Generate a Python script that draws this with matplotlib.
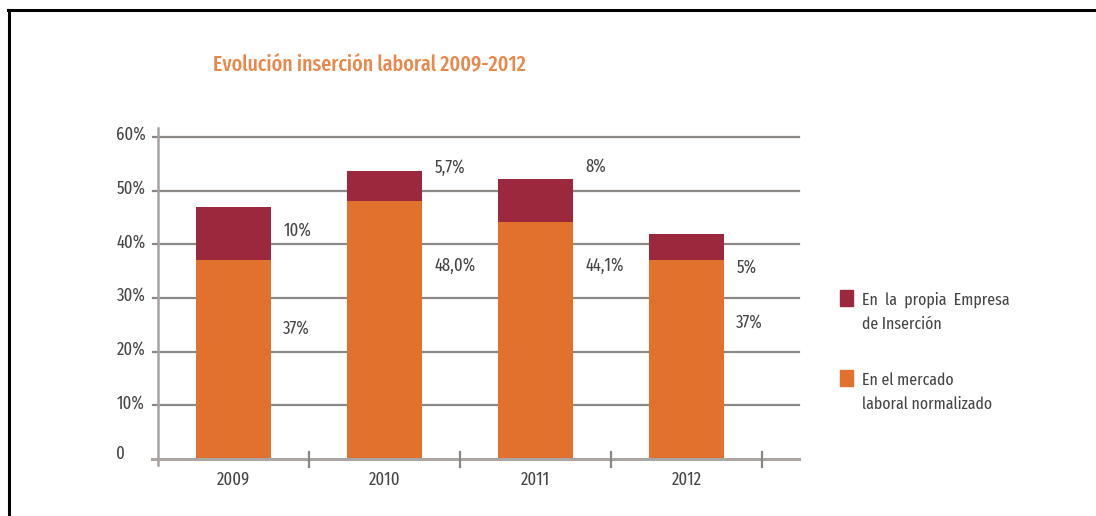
import matplotlib
matplotlib.use('Agg')
import matplotlib.pyplot as plt
from matplotlib.lines import Line2D
from matplotlib.patches import Rectangle

plt.rcParams['font.family'] = ['Fira Sans Extra Condensed', 'DejaVu Sans']

# Datos de inserción laboral (%)
anios = ['2009', '2010', '2011', '2012']
mercado = [37, 48.0, 44.1, 37]
empresa = [10, 5.7, 8, 5]
etiq_mercado = ['37%', '48,0%', '44,1%', '37%']
etiq_empresa = ['10%', '5,7%', '8%', '5%']
yticks = [0, 10, 20, 30, 40, 50, 60]
ytick_labels = ['0', '10%', '20%', '30%', '40%', '50%', '60%']

# posiciones verticales de las etiquetas de valor
y_etiq_mercado = [24.4, 36.0, 36.0, 25.5]
y_etiq_empresa = [42.6, 54.2, 54.6, 35.6]

naranja = '#E2712E'
granate = '#9C283D'
gris_texto = '#454545'
gris_linea = '#8c8886'

fig = plt.figure(figsize=(10.96, 5.16), dpi=100)
ax = fig.add_axes([158 / 1096, 1 - 459 / 516, 641 / 1096, 322 / 516])

x = range(len(anios))
ax.bar(x, mercado, width=0.5, color=naranja, zorder=3)
ax.bar(x, empresa, width=0.5, bottom=mercado, color=granate, zorder=3)

ax.set_xlim(-0.5, 3.745)
ax.set_ylim(0, 60)

# rejilla horizontal
for v in yticks[1:]:
    ax.plot([-0.535, 3.745], [v, v], color=gris_linea, lw=1.6, zorder=2, clip_on=False)
# eje x y eje y
ax.plot([-0.54, 3.745], [0, 0], color='#aaa6a4', lw=2.2, zorder=4, clip_on=False)
ax.plot([-0.5, -0.5], [-1.1, 61.7], color='#a8a4a2', lw=1.8, zorder=4, clip_on=False)
for t in [0.5, 1.5, 2.5, 3.5]:
    ax.plot([t, t], [-1.5, 1.3], color='#8a8684', lw=1.6, zorder=4, clip_on=False)

for s in ax.spines.values():
    s.set_visible(False)
ax.set_xticks([])
ax.set_yticks([])

# etiquetas del eje y, alineadas a la izquierda
for v, lab in zip(yticks, ytick_labels):
    dy = 0.9 if v == 0 else 0.4
    ax.text(-0.775, v + dy, lab, ha='left', va='center', fontsize=13,
            color=gris_texto)

# etiquetas del eje x
for i, a in enumerate(anios):
    ax.text(i, -3.9, a, ha='center', va='center', fontsize=13, color=gris_texto)

# etiquetas de valores
for i in x:
    ax.text(i + 0.33, y_etiq_mercado[i], etiq_mercado[i], ha='left', va='center',
            fontsize=13, color=gris_texto)
    ax.text(i + 0.33, y_etiq_empresa[i], etiq_empresa[i], ha='left', va='center',
            fontsize=13, color=gris_texto)

# título
fig.text(213 / 1096, 1 - 65 / 516, 'Evolución inserción laboral 2009-2012',
         ha='left', va='center', fontsize=15.6, color='#E9884A', fontweight='medium')

# leyenda
leg = [(granate, 'En  la  propia  Empresa\nde Inserción', 298),
       (naranja, 'En el mercado\nlaboral normalizado', 378)]
for col, txt, py in leg:
    fig.patches.append(Rectangle((840 / 1096, 1 - (py + 8) / 516), 13 / 1096, 16 / 516,
                                 transform=fig.transFigure, color=col))
    fig.text(862 / 1096, 1 - (py + 14) / 516, txt, ha='left', va='center',
             fontsize=12.4, color=gris_texto, linespacing=1.65)

# marco
fig.add_artist(Line2D([8 / 1096, 1], [1 - 10 / 516, 1 - 10 / 516], color='black', lw=2.2,
                      transform=fig.transFigure))
fig.add_artist(Line2D([9 / 1096, 9 / 1096], [1 - 10 / 516, 0], color='black', lw=2.2,
                      transform=fig.transFigure))

fig.savefig('out.png', dpi=100)
